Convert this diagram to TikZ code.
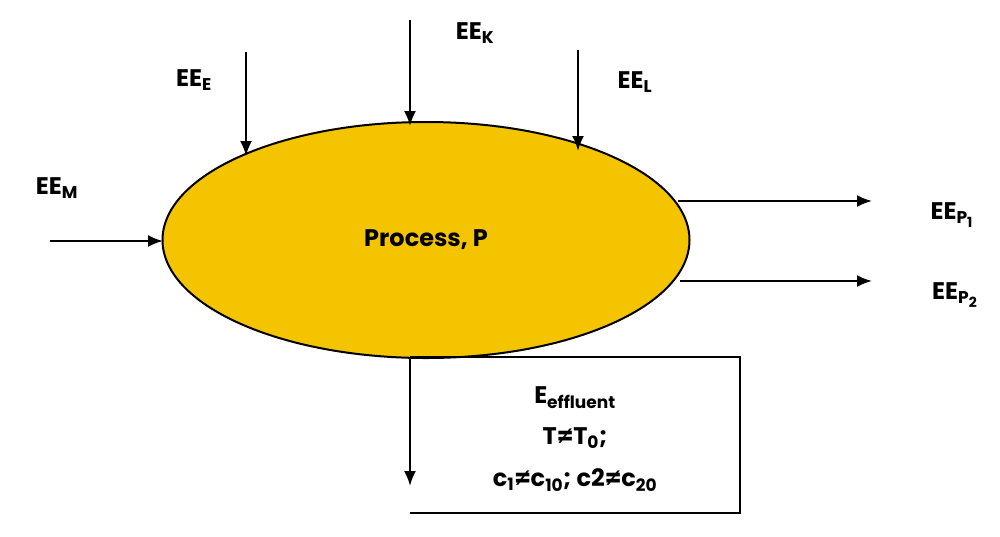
\documentclass[tikz,border=0pt]{standalone}
\usepackage{fontspec}
\setmainfont{Poppins}
\usetikzlibrary{arrows.meta,shapes.geometric}
\newcommand{\sbs}[1]{\textsubscript{\fontsize{17}{19}\selectfont\bfseries #1}}
\begin{document}
\begin{tikzpicture}[x=1pt,y=-1pt,
  arr/.style={line width=2.2pt,-{Latex[length=15pt,width=12pt]}},
  lbl/.style={font=\fontsize{24}{28}\selectfont\bfseries,inner sep=0pt}]
\useasboundingbox (0,0) rectangle (1000,536);
\node[ellipse,draw,line width=2pt,fill={rgb,255:red,245;green,196;blue,0},minimum width=527pt,minimum height=236pt,inner sep=0pt] (p) at (426,240) {};
\node[lbl] (pt) at (426,240) {Process, P};
\coordinate (m0) at (50,241); \coordinate (m1) at (163,241);
\draw[arr] (m0) -- (m1);
\coordinate (e0) at (246,52); \coordinate (e1) at (246,156);
\draw[arr] (e0) -- (e1);
\coordinate (k0) at (410,20); \coordinate (k1) at (410,126);
\draw[arr] (k0) -- (k1);
\coordinate (l0) at (578,50); \coordinate (l1) at (578,151);
\draw[arr] (l0) -- (l1);
\coordinate (a0) at (678,201); \coordinate (a1) at (872,201);
\draw[arr] (a0) -- (a1);
\coordinate (b0) at (680,281); \coordinate (b1) at (872,281);
\draw[arr] (b0) -- (b1);
\coordinate (f0) at (410,357); \coordinate (f1) at (410,486);
\draw[arr] (f0) -- (f1);
\draw[line width=2pt] (410,357) -- (740,357) -- (740,513) -- (410,513);
\node[lbl] (lm) at (57,188) {EE\sbs{M}};
\node[lbl] (le) at (194,80) {EE\sbs{E}};
\node[lbl] (lk) at (475,33) {EE\sbs{K}};
\node[lbl] (ll) at (635,82) {EE\sbs{L}};
\node[lbl] (lp1) at (952,215) {EE\sbs{P\textsubscript{\fontsize{14}{16}\selectfont 1}}};
\node[lbl] (lp2) at (955,295) {EE\sbs{P\textsubscript{\fontsize{14}{16}\selectfont 2}}};
\node[lbl] (t1) at (575,398) {E\sbs{effluent}};
\node[lbl] (t2) at (575,438) {T≠T\sbs{0};};
\node[lbl] (t3) at (575,480) {c\sbs{1}≠c\sbs{10}; c2≠c\sbs{20}};
\end{tikzpicture}
\end{document}
